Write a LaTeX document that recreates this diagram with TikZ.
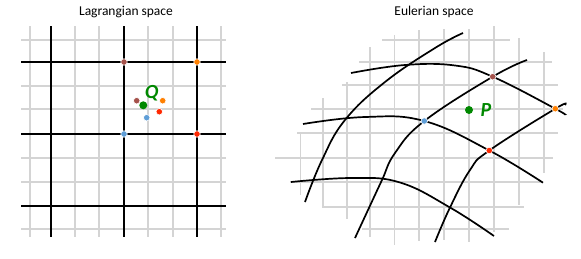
\documentclass[tikz,border=0pt]{standalone}
\usepackage{fontspec}
\setmainfont{Carlito}
\usetikzlibrary{positioning}

\definecolor{gridgray}{RGB}{212,212,212}
\definecolor{ptbrown}{RGB}{165,82,75}
\definecolor{ptorange}{RGB}{255,128,0}
\definecolor{ptblue}{RGB}{95,158,215}
\definecolor{ptred}{RGB}{255,40,0}
\definecolor{ptgreen}{RGB}{0,136,0}

\begin{document}
\begin{tikzpicture}[x=1pt, y=-1pt, font=\fontsize{13.5}{16}\selectfont,
    gridline/.style={draw=gridgray, line width=1.3pt},
    meshline/.style={draw=black, line width=1.7pt},
    ptdot/.style={circle, fill=#1, draw=white, line width=0.6pt, inner sep=0pt, minimum size=6.5pt},
    bigdot/.style={circle, fill=ptgreen, inner sep=0pt, minimum size=8pt},
    ptname/.style={text=ptgreen, font=\fontsize{20}{22}\selectfont\bfseries\itshape}]
    \useasboundingbox (0,0) rectangle (581,258);

    % Titles
    \node (lagtitle) at (126, 12) {Lagrangian space};
    \node (eultitle) at (434, 12) {Eulerian space};

    % Lagrangian space: fine grid
    \foreach \x in {30, 75, 99, 148, 173, 221}
        \draw[gridline] (\x, 26) -- (\x, 237);
    \foreach \y in {40, 86, 109, 158, 182, 229}
        \draw[gridline] (21, \y) -- (226, \y);

    % Lagrangian space: coarse mesh
    \foreach \x in {51, 124, 197}
        \draw[meshline] (\x, 26) -- (\x, 237);
    \foreach \y in {62, 134, 206}
        \draw[meshline] (21, \y) -- (226, \y);

    % Cell corners and the point Q
    \node[ptdot=ptbrown]  (qbrown)  at (124, 62)  {};
    \node[ptdot=ptorange] (qorange) at (197, 62)  {};
    \node[ptdot=ptblue]   (qblue)   at (124, 134) {};
    \node[ptdot=ptred]    (qred)    at (197, 134) {};
    \node[ptdot=ptbrown]  (qbrownin)  at (136.7, 100.7) {};
    \node[ptdot=ptorange] (qorangein) at (162.7, 100.7) {};
    \node[ptdot=ptred]    (qredin)    at (159.3, 111.7) {};
    \node[ptdot=ptblue]   (qbluein)   at (146.7, 117.7) {};
    \node[bigdot] (qdot) at (143.3, 105.3) {};
    \node[ptname] (qname) at (151.7, 93) {Q};

    % Eulerian space: fine grid, clipped to a blob
    \foreach \x/\ya/\yb in {300.5/133/195, 323/98/207, 347/82/219, 370/47/237,
                            394.5/35/245, 419/30/241, 444/29/240, 469/29/242,
                            494/26/232, 519/38/205, 544/52/173}
        \draw[gridline] (\x, \ya) -- (\x, \yb);
    \foreach \y/\xa/\xb in {40/382/510, 62/359/552, 85/342/558, 109/311/563,
                            133/297/558, 158/275/553, 182/290/543, 207/322/524,
                            229/362/509}
        \draw[gridline] (\xa, \y) -- (\xb, \y);

    % Eulerian space: deformed mesh
    \coordinate (pbrown)  at (492.7, 76.7);
    \coordinate (porange) at (555.3, 108.7);
    \coordinate (pblue)   at (424.3, 121);
    \coordinate (pred)    at (489.3, 150.5);

    \draw[meshline] plot[smooth, tension=0.7] coordinates {(351,73) (405,65) (455,65.5) (pbrown) (porange) (564,114.3)};
    \draw[meshline] plot[smooth, tension=0.7] coordinates {(303,124) (365,117) (pblue) (pred) (543,182.7)};
    \draw[meshline] plot[smooth, tension=0.7] coordinates {(291,182) (352,178) (400,182.5) (450,207.5) (494,236)};
    \draw[meshline] plot[smooth, tension=0.7] coordinates {(305,202) (322,160) (345,120) (385,82) (435,48) (463,33)};
    \draw[meshline] plot[smooth, tension=0.7] coordinates {(355,238) (368,210) (382,180) (395,153) (pblue) (pbrown) (527,60)};
    \draw[meshline] plot[smooth, tension=0.7] coordinates {(435,242) (450,207.5) (470,170) (pred) (porange) (565,105)};

    % Mesh corners and the point P
    \node[ptdot=ptbrown]  (pbrowndot)  at (pbrown)  {};
    \node[ptdot=ptorange] (porangedot) at (porange) {};
    \node[ptdot=ptblue]   (pbluedot)   at (pblue)   {};
    \node[ptdot=ptred]    (preddot)    at (pred)    {};
    \node[bigdot] (pdot) at (469, 110) {};
    \node[ptname, right=4pt of pdot] (pname) {P};
\end{tikzpicture}
\end{document}
